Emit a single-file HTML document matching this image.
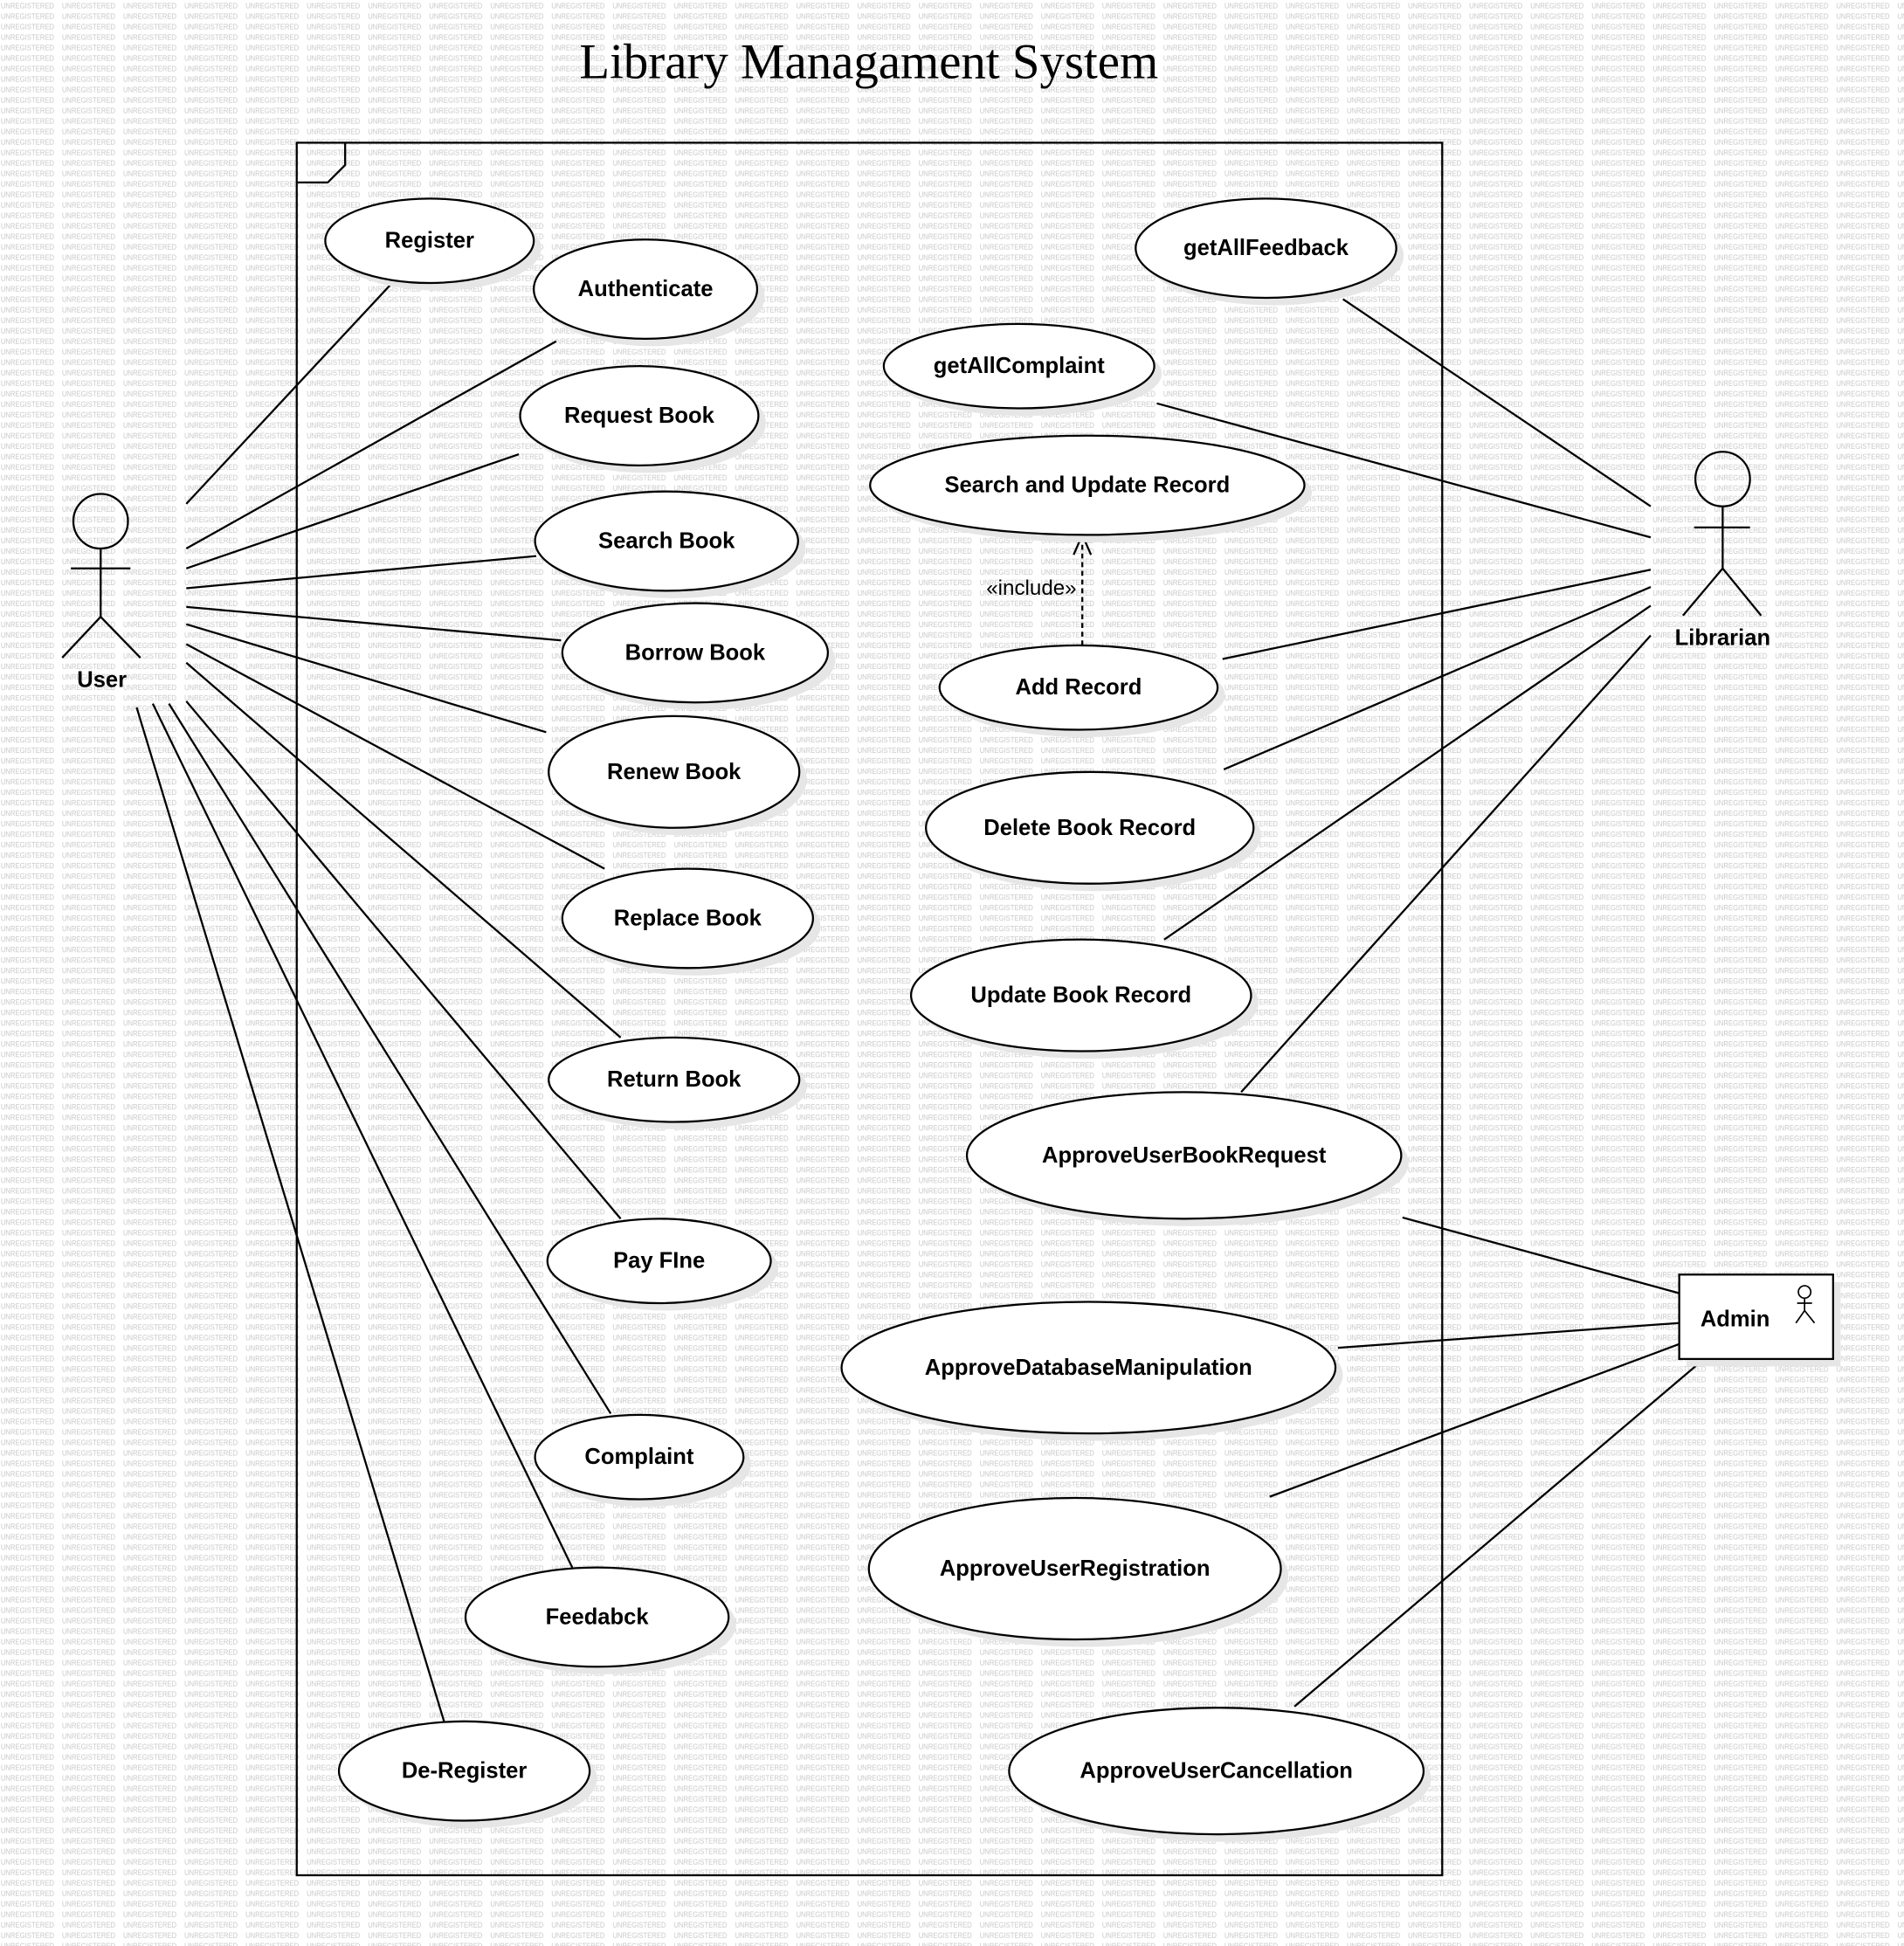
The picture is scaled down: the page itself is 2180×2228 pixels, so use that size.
<!DOCTYPE html>
<html><head><meta charset="utf-8"><style>
html,body{margin:0;padding:0;background:#fff;}
svg{display:block;}
.t{font-family:"Liberation Sans",sans-serif;font-weight:bold;font-size:18px;text-anchor:middle;dominant-baseline:central;fill:#000;}
.wm{font-family:"Liberation Sans",sans-serif;font-size:6.2px;fill:#c8c8c8;}
line,path.l{stroke:#000;stroke-width:1.6;fill:none;}
ellipse.u{fill:#fff;stroke:#000;stroke-width:1.6;}
ellipse.s{fill:#e6e6e6;}
</style></head><body>
<svg width="2180" height="2228" viewBox="0 0 1534 1568" xmlns="http://www.w3.org/2000/svg">
<defs>
<pattern id="wm" width="49.3" height="8.45" patternUnits="userSpaceOnUse">
<text class="wm" x="0.5" y="6.8" textLength="43" lengthAdjust="spacingAndGlyphs">UNREGISTERED</text>
</pattern>
</defs>
<rect width="1534" height="1568" fill="#fff"/>
<rect width="1534" height="1568" fill="url(#wm)"/>
<text x="700" y="63" style="font-family:'Liberation Serif',serif;font-size:40px;text-anchor:middle;fill:#000">Library Managament System</text>
<rect x="239" y="115" width="923" height="1396" fill="none" stroke="#000" stroke-width="1.6"/>
<path class="l" d="M239,147 L264,147 L278,133 L278,115"/>

<g>
<line x1="150" y1="406" x2="314" y2="230"/>
<line x1="150" y1="442" x2="448" y2="275"/>
<line x1="150" y1="458" x2="418" y2="366"/>
<line x1="150" y1="474" x2="432" y2="448"/>
<line x1="150" y1="489" x2="452" y2="516"/>
<line x1="150" y1="503" x2="440" y2="590"/>
<line x1="150" y1="519" x2="487" y2="700"/>
<line x1="150" y1="534" x2="500" y2="836"/>
<line x1="150" y1="565" x2="500" y2="982"/>
<line x1="136" y1="567" x2="492" y2="1139"/>
<line x1="123" y1="567" x2="461" y2="1263"/>
<line x1="110" y1="570" x2="358" y2="1388"/>
<line x1="1082" y1="241" x2="1330" y2="408"/>
<line x1="932" y1="325" x2="1330" y2="433"/>
<line x1="985" y1="531" x2="1330" y2="459"/>
<line x1="986" y1="620" x2="1330" y2="473"/>
<line x1="938" y1="757" x2="1330" y2="488"/>
<line x1="1000" y1="880" x2="1330" y2="512"/>
<line x1="1130" y1="981" x2="1353" y2="1042"/>
<line x1="1078" y1="1086" x2="1353" y2="1066"/>
<line x1="1023" y1="1206" x2="1353" y2="1083"/>
<line x1="1043" y1="1375" x2="1373" y2="1095"/>
</g>
<line x1="872" y1="520" x2="872" y2="433" stroke-dasharray="4,3"/>
<path class="l" d="M865,447 L872,431 L879,447"/>
<text x="831" y="474" style="font-family:'Liberation Sans',sans-serif;font-size:17px;text-anchor:middle;dominant-baseline:central">«include»</text>

<g>
<ellipse class="s" cx="352" cy="200" rx="84" ry="34"/><ellipse class="u" cx="346" cy="194" rx="84" ry="34"/><text class="t" x="346" y="194">Register</text>
<ellipse class="s" cx="526" cy="239" rx="90" ry="40"/><ellipse class="u" cx="520" cy="233" rx="90" ry="40"/><text class="t" x="520" y="233">Authenticate</text>
<ellipse class="s" cx="521" cy="341" rx="96" ry="40"/><ellipse class="u" cx="515" cy="335" rx="96" ry="40"/><text class="t" x="515" y="335">Request Book</text>
<ellipse class="s" cx="543" cy="442" rx="106" ry="40"/><ellipse class="u" cx="537" cy="436" rx="106" ry="40"/><text class="t" x="537" y="436">Search Book</text>
<ellipse class="s" cx="566" cy="532" rx="107" ry="40"/><ellipse class="u" cx="560" cy="526" rx="107" ry="40"/><text class="t" x="560" y="526">Borrow Book</text>
<ellipse class="s" cx="549" cy="628" rx="101" ry="45"/><ellipse class="u" cx="543" cy="622" rx="101" ry="45"/><text class="t" x="543" y="622">Renew Book</text>
<ellipse class="s" cx="560" cy="746" rx="101" ry="40"/><ellipse class="u" cx="554" cy="740" rx="101" ry="40"/><text class="t" x="554" y="740">Replace Book</text>
<ellipse class="s" cx="549" cy="876" rx="101" ry="34"/><ellipse class="u" cx="543" cy="870" rx="101" ry="34"/><text class="t" x="543" y="870">Return Book</text>
<ellipse class="s" cx="537" cy="1022" rx="90" ry="34"/><ellipse class="u" cx="531" cy="1016" rx="90" ry="34"/><text class="t" x="531" y="1016">Pay FIne</text>
<ellipse class="s" cx="521" cy="1180" rx="84" ry="34"/><ellipse class="u" cx="515" cy="1174" rx="84" ry="34"/><text class="t" x="515" y="1174">Complaint</text>
<ellipse class="s" cx="487" cy="1309" rx="106" ry="40"/><ellipse class="u" cx="481" cy="1303" rx="106" ry="40"/><text class="t" x="481" y="1303">Feedabck</text>
<ellipse class="s" cx="380" cy="1433" rx="101" ry="40"/><ellipse class="u" cx="374" cy="1427" rx="101" ry="40"/><text class="t" x="374" y="1427">De-Register</text>
<ellipse class="s" cx="1026" cy="206" rx="105" ry="40"/><ellipse class="u" cx="1020" cy="200" rx="105" ry="40"/><text class="t" x="1020" y="200">getAllFeedback</text>
<ellipse class="s" cx="827" cy="301" rx="109" ry="34"/><ellipse class="u" cx="821" cy="295" rx="109" ry="34"/><text class="t" x="821" y="295">getAllComplaint</text>
<ellipse class="s" cx="882" cy="397" rx="175" ry="40"/><ellipse class="u" cx="876" cy="391" rx="175" ry="40"/><text class="t" x="876" y="391">Search and Update Record</text>
<ellipse class="s" cx="875" cy="560" rx="112" ry="34"/><ellipse class="u" cx="869" cy="554" rx="112" ry="34"/><text class="t" x="869" y="554">Add Record</text>
<ellipse class="s" cx="884" cy="673" rx="132" ry="45"/><ellipse class="u" cx="878" cy="667" rx="132" ry="45"/><text class="t" x="878" y="667">Delete Book Record</text>
<ellipse class="s" cx="877" cy="808" rx="137" ry="45"/><ellipse class="u" cx="871" cy="802" rx="137" ry="45"/><text class="t" x="871" y="802">Update Book Record</text>
<ellipse class="s" cx="960" cy="937" rx="175" ry="51"/><ellipse class="u" cx="954" cy="931" rx="175" ry="51"/><text class="t" x="954" y="931">ApproveUserBookRequest</text>
<ellipse class="s" cx="883" cy="1108" rx="199" ry="53"/><ellipse class="u" cx="877" cy="1102" rx="199" ry="53"/><text class="t" x="877" y="1102">ApproveDatabaseManipulation</text>
<ellipse class="s" cx="872" cy="1270" rx="166" ry="57"/><ellipse class="u" cx="866" cy="1264" rx="166" ry="57"/><text class="t" x="866" y="1264">ApproveUserRegistration</text>
<ellipse class="s" cx="986" cy="1433" rx="167" ry="51"/><ellipse class="u" cx="980" cy="1427" rx="167" ry="51"/><text class="t" x="980" y="1427">ApproveUserCancellation</text>
</g>

<circle cx="81" cy="420" r="22" fill="none" stroke="#000" stroke-width="1.6"/>
<path class="l" d="M81,442 L81,497 M57,458 L105,458 M50,530 L81,497 L113,530"/>
<text class="t" x="82" y="548">User</text>
<circle cx="1388" cy="386" r="22" fill="none" stroke="#000" stroke-width="1.6"/>
<path class="l" d="M1388,408 L1388,458 M1365,425 L1410,425 M1356,496 L1388,458 L1419,496"/>
<text class="t" x="1388" y="514">Librarian</text>
<rect x="1359" y="1033" width="124" height="68" fill="#e6e6e6"/>
<rect x="1353" y="1027" width="124" height="68" fill="#fff" stroke="#000" stroke-width="1.6"/>
<text class="t" x="1398" y="1063">Admin</text>
<circle cx="1454" cy="1041" r="5" fill="none" stroke="#000" stroke-width="1.2"/>
<path d="M1454,1046 L1454,1056 M1448,1050 L1460,1050 M1447,1066 L1454,1056 L1462,1066" stroke="#000" stroke-width="1.2" fill="none"/>
</svg>
</body></html>
